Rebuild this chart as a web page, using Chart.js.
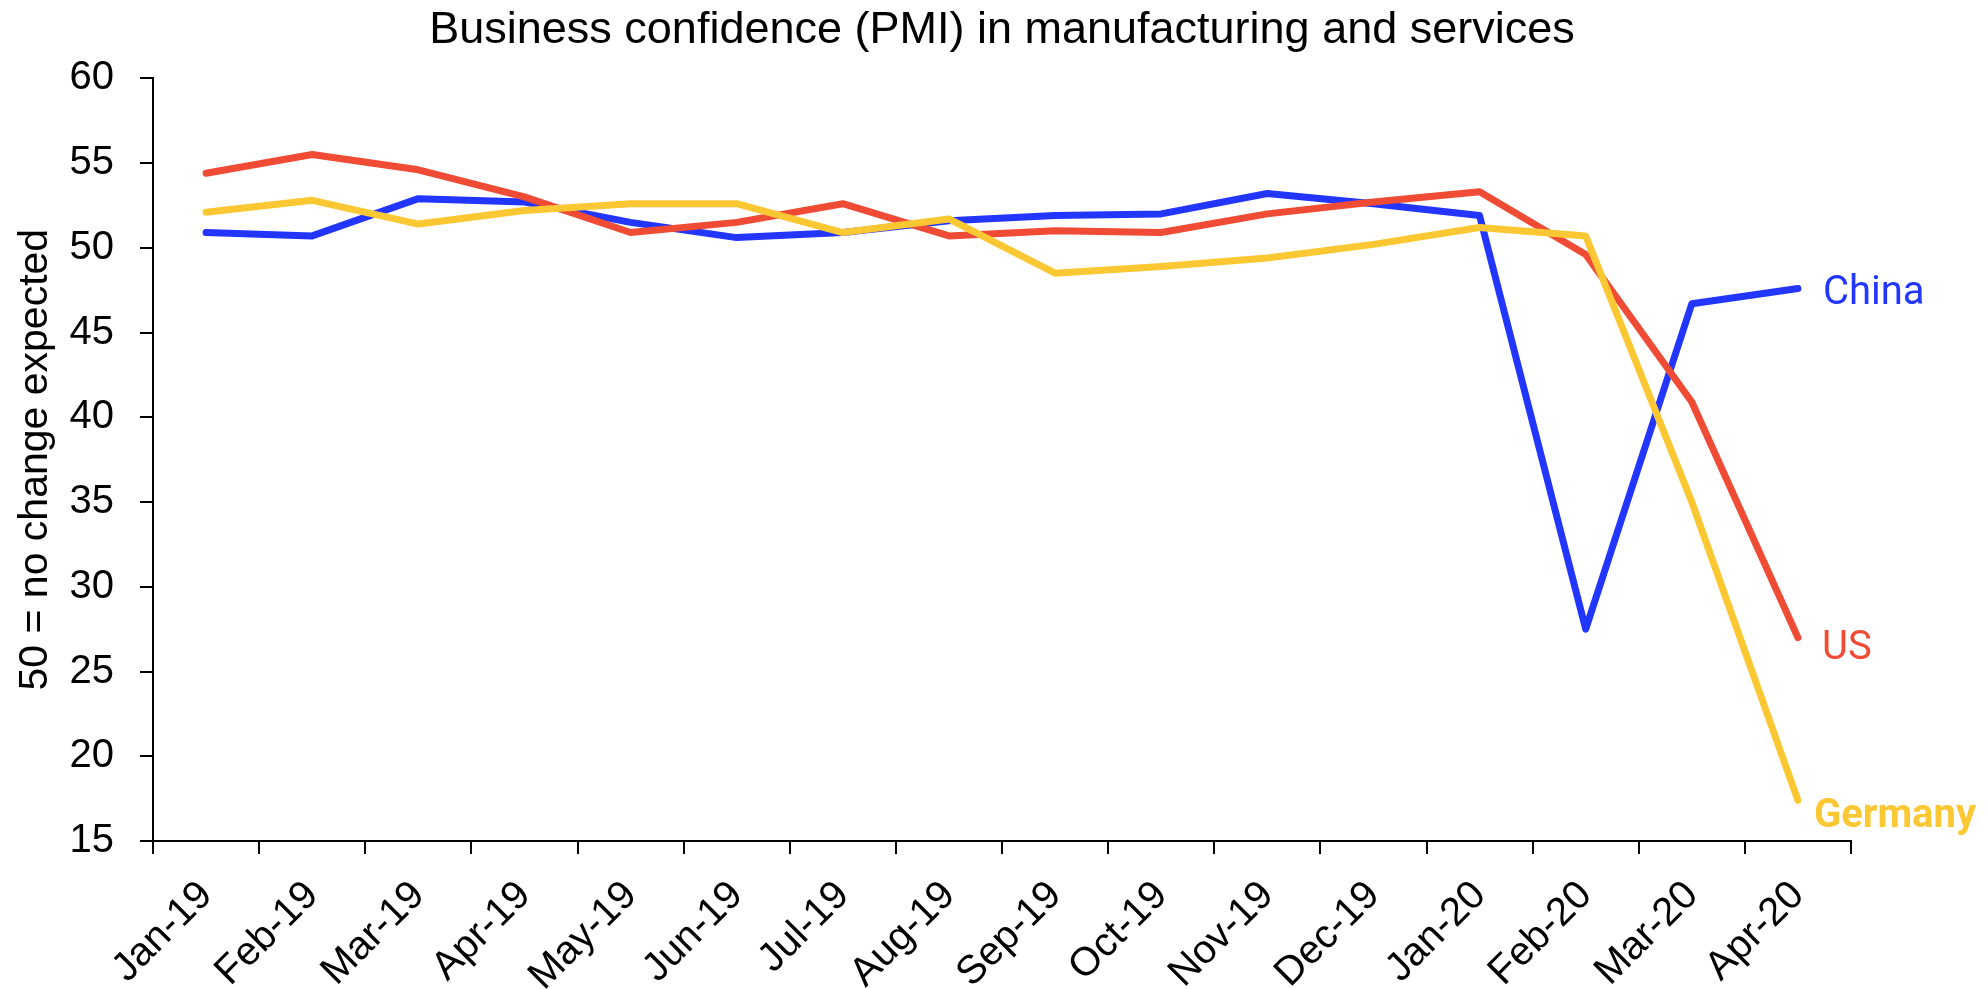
<!DOCTYPE html>
<html>
<head>
<meta charset="utf-8">
<title>Business confidence (PMI)</title>
<script src="https://cdn.jsdelivr.net/npm/chart.js@4.4.0/dist/chart.umd.min.js"></script>
<style>
  html, body { margin: 0; padding: 0; background: #fff; }
  #wrap { width: 1988px; height: 989px; position: relative; }
</style>
</head>
<body>
<div id="wrap"><canvas id="pmiChart"></canvas></div>
<script>
// Monthly composite PMI readings
const months = ['Jan-19', 'Feb-19', 'Mar-19', 'Apr-19', 'May-19', 'Jun-19', 'Jul-19', 'Aug-19',
                'Sep-19', 'Oct-19', 'Nov-19', 'Dec-19', 'Jan-20', 'Feb-20', 'Mar-20', 'Apr-20'];
const china   = [50.9, 50.7, 52.9, 52.7, 51.5, 50.6, 50.9, 51.6, 51.9, 52.0, 53.2, 52.6, 51.9, 27.5, 46.7, 47.6];
const us      = [54.4, 55.5, 54.6, 53.0, 50.9, 51.5, 52.6, 50.7, 51.0, 50.9, 52.0, 52.7, 53.3, 49.6, 40.9, 27.0];
const germany = [52.1, 52.8, 51.4, 52.2, 52.6, 52.6, 50.9, 51.7, 48.5, 48.9, 49.4, 50.2, 51.2, 50.7, 35.0, 17.4];

// y axis range
const yMin = 15;
const yMax = 60;
const yStep = 5;

// Series colours
const BLUE = '#2336ff';
const RED = '#f04b34';
const YELLOW = '#fbc834';

const AXIS_FONT = '"Liberation Sans", Arial, sans-serif';
const LABEL_FONT = 'Roboto, "Liberation Sans", sans-serif';

// Series name written next to the last point of each line
const endLabels = {
    id: 'endLabels',
    afterDatasetsDraw(chart) {
        const ctx = chart.ctx;
        chart.data.datasets.forEach((ds, i) => {
            const meta = chart.getDatasetMeta(i);
            const pt = meta.data[meta.data.length - 1];
            if (!pt) return;
            const lab = ds.endLabel;
            ctx.save();
            ctx.font = `${lab.weight} 40px ${LABEL_FONT}`;
            ctx.fillStyle = ds.borderColor;
            ctx.textAlign = 'left';
            ctx.textBaseline = 'middle';
            ctx.fillText(ds.label, pt.x + lab.dx, pt.y + lab.dy);
            ctx.restore();
        });
    }
};

function makeSeries(label, data, color, order, endLabel) {
    return {
        label,
        data,
        borderColor: color,
        backgroundColor: color,
        borderWidth: 7,
        borderCapStyle: 'round',
        borderJoinStyle: 'round',
        pointRadius: 0,
        tension: 0,
        order,
        endLabel
    };
}

const ctx = document.getElementById('pmiChart');
new Chart(ctx, {
    type: 'line',
    data: {
        labels: months,
        datasets: [
            makeSeries('China', china, BLUE, 2, { dx: 25, dy: 6, weight: 'normal' }),
            makeSeries('US', us, RED, 1, { dx: 24, dy: 11, weight: 'normal' }),
            makeSeries('Germany', germany, YELLOW, 0, { dx: 16, dy: 17, weight: 'bold' })
        ]
    },
    options: {
        responsive: true,
        maintainAspectRatio: false,
        animation: false,
        layout: { padding: { left: 0, right: 137, top: 0, bottom: 0 } },
        plugins: {
            legend: { display: false },
            tooltip: { enabled: false },
            title: {
                display: true,
                fullSize: false,
                text: 'Business confidence (PMI) in manufacturing and services',
                color: '#000',
                font: { family: AXIS_FONT, size: 45, weight: 'normal' },
                padding: { top: 4, bottom: 20.3 }
            }
        },
        scales: {
            x: {
                offset: true,
                grid: {
                    offset: true,
                    drawOnChartArea: false,
                    drawTicks: true,
                    tickLength: 13,
                    color: '#000',
                    lineWidth: 2
                },
                border: { display: true, color: '#000', width: 2 },
                ticks: {
                    autoSkip: false,
                    maxRotation: 45,
                    minRotation: 45,
                    padding: 18,
                    color: '#000',
                    font: { family: AXIS_FONT, size: 40 }
                },
                afterFit(scale) { scale.height = 148; }
            },
            y: {
                min: yMin,
                max: yMax,
                grid: {
                    drawOnChartArea: false,
                    drawTicks: true,
                    tickLength: 13,
                    color: '#000',
                    lineWidth: 2
                },
                border: { display: true, color: '#000', width: 2 },
                ticks: {
                    stepSize: yStep,
                    padding: 26,
                    color: '#000',
                    font: { family: AXIS_FONT, size: 40 }
                },
                title: {
                    display: true,
                    text: '50 = no change expected',
                    color: '#000',
                    font: { family: AXIS_FONT, size: 41 },
                    padding: { top: 11, bottom: 0 }
                },
                afterFit(scale) { scale.width = 153; }
            }
        }
    },
    plugins: [endLabels]
});
</script>
</body>
</html>
